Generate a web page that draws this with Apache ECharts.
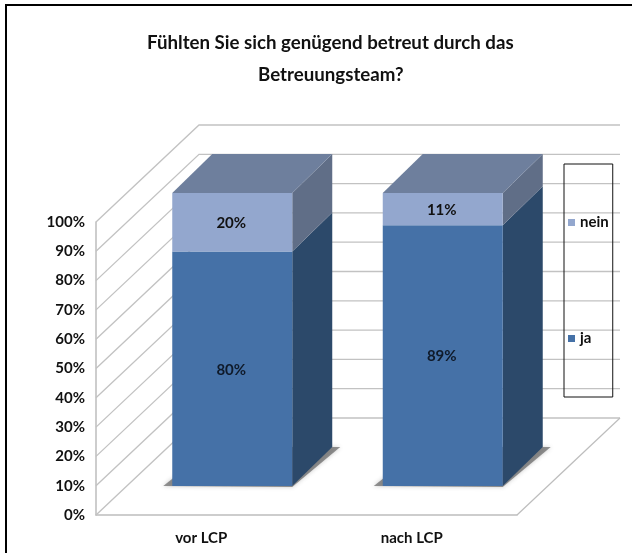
<!DOCTYPE html>
<html>
<head>
<meta charset="utf-8">
<style>html,body{margin:0;padding:0;background:#fff}#c{width:632px;height:553px}</style>
<script src="https://cdn.jsdelivr.net/npm/echarts@6/dist/echarts.min.js"></script>
</head>
<body>
<div id="c"></div>
<script>
var categories = ['vor LCP', 'nach LCP'];
var ja = [80, 89];
var nein = [20, 11];
var ticks = [0, 10, 20, 30, 40, 50, 60, 70, 80, 90, 100];

var WALL = [103, 97];
var BAR_OFFSET = [31, 29];
var BAR_DEPTH = [40, 39];
var BAR_RATIO = 0.57;
var FONT = 'Lato, "Liberation Sans", sans-serif';
var GRID_COLOR = '#c2c2c2';

function face(points, color, extra) {
  var s = { fill: color };
  if (extra) for (var k in extra) s[k] = extra[k];
  return { type: 'polygon', shape: { points: points }, style: s, silent: true };
}

function wallItem(params, api) {
  var cs = params.coordSys;
  var y = api.coord([0, api.value(1)])[1];
  var x0 = cs.x, x1 = cs.x + cs.width;
  return {
    type: 'polyline',
    shape: { points: [[x0, y], [x0 + WALL[0], y - WALL[1]], [x1 + WALL[0], y - WALL[1]]] },
    style: { stroke: GRID_COLOR, lineWidth: 1.3, fill: null },
    silent: true
  };
}

function floorEdge(params) {
  var cs = params.coordSys;
  var x1 = cs.x + cs.width, y = cs.y + cs.height;
  return {
    type: 'polyline',
    shape: { points: [[x1, y], [x1 + WALL[0], y - WALL[1]]] },
    style: { stroke: '#bdbdbd', lineWidth: 1.2, fill: null },
    silent: true
  };
}

function barRenderer(colors, hasTop, hasShadow) {
  return function (params, api) {
    var i = api.value(0), start = api.value(2), v = api.value(1);
    var c = api.coord([i, 0]);
    var w = api.size([1, 0])[0] * BAR_RATIO;
    var cx = c[0] + BAR_OFFSET[0];
    var xl = cx - w / 2, xr = cx + w / 2;
    var yb = api.coord([i, start])[1] - BAR_OFFSET[1];
    var yt = api.coord([i, start + v])[1] - BAR_OFFSET[1];
    var dx = BAR_DEPTH[0], dy = BAR_DEPTH[1];
    var kids = [];
    if (hasShadow) {
      kids.push(face([[xl - 9, yb], [xr, yb + 1], [xr + dx + 8, yb - dy], [xl + dx, yb - dy]],
        'rgba(80,80,80,0.6)', { shadowBlur: 4, shadowColor: 'rgba(80,80,80,0.5)' }));
    }
    kids.push(face([[xr, yt], [xr + dx, yt - dy], [xr + dx, yb - dy], [xr, yb]], colors.side));
    if (hasTop) {
      kids.push(face([[xl, yt], [xr, yt], [xr + dx, yt - dy], [xl + dx, yt - dy]], colors.top));
    }
    kids.push({ type: 'rect', shape: { x: xl, y: yt, width: w, height: yb - yt }, style: { fill: colors.front }, silent: true });
    kids.push({
      type: 'text', silent: true,
      style: {
        x: cx - 1, y: (yt + yb) / 2 + 1, text: v + '%', align: 'center', verticalAlign: 'middle',
        font: 'bold 15px ' + FONT, fill: colors.label
      }
    });
    return { type: 'group', children: kids };
  };
}

var jaColors = { front: '#4571a7', side: '#2c496a', top: '#6e7f9d', label: '#0f1a2a' };
var neinColors = { front: '#93a7ce', side: '#606e87', top: '#6e7f9d', label: '#111111' };

var chart = echarts.init(document.getElementById('c'), null, { renderer: 'canvas' });
chart.setOption({
  animation: false,
  backgroundColor: '#ffffff',
  title: [
    { text: 'Fühlten Sie sich genügend betreut durch das', left: 142, top: 28,
      textStyle: { fontFamily: 'Lato', fontWeight: 'bold', fontSize: 18.7, color: '#111111' } },
    { text: 'Betreuungsteam?', left: 253, top: 60,
      textStyle: { fontFamily: 'Lato', fontWeight: 'bold', fontSize: 18.7, color: '#111111' } }
  ],
  legend: {
    data: ['nein', 'ja'],
    orient: 'vertical',
    left: 564, top: 164,
    padding: [51, 4, 51, 4],
    itemGap: 101,
    itemWidth: 7, itemHeight: 7,
    icon: 'rect',
    borderColor: '#111111', borderWidth: 1,
    selectedMode: false,
    textStyle: { fontFamily: FONT, fontWeight: 'bold', fontSize: 15, color: '#111111' }
  },
  grid: { left: 96, top: 222, width: 421, height: 293, containLabel: false },
  xAxis: {
    type: 'category', data: categories,
    axisLine: { show: true, lineStyle: { color: '#bdbdbd', width: 1.5 } },
    axisTick: { show: false }, splitLine: { show: false },
    axisLabel: { margin: 16, fontFamily: FONT, fontWeight: 'bold', fontSize: 15, color: '#111111' }
  },
  yAxis: {
    type: 'value', min: 0, max: 100, interval: 10,
    axisLine: { show: true, lineStyle: { color: '#bdbdbd', width: 1.5 } },
    axisTick: { show: false }, splitLine: { show: false },
    axisLabel: { margin: 11, formatter: '{value}%', fontFamily: FONT, fontWeight: 'bold', fontSize: 15, color: '#111111' }
  },
  graphic: [{
    type: 'polyline', silent: true, z: 100,
    shape: { points: [[6, 553], [6, 5], [632, 5]] },
    style: { stroke: '#000000', lineWidth: 2, fill: null }
  }],
  series: [
    { name: 'Wand', type: 'custom', z: 1, silent: true, renderItem: wallItem,
      data: ticks.map(function (t) { return [0, t]; }), encode: { x: 0, y: 1 } },
    { name: 'Boden', type: 'custom', z: 1, silent: true, renderItem: floorEdge,
      data: [[0, 0]], encode: { x: 0, y: 1 } },
    { name: 'ja', type: 'custom', z: 3, silent: true, itemStyle: { color: jaColors.front },
      renderItem: barRenderer(jaColors, false, true),
      data: ja.map(function (v, i) { return [i, v, 0]; }), encode: { x: 0, y: 1 } },
    { name: 'nein', type: 'custom', z: 4, silent: true, itemStyle: { color: neinColors.front },
      renderItem: barRenderer(neinColors, true, false),
      data: nein.map(function (v, i) { return [i, v, ja[i]]; }), encode: { x: 0, y: 1 } }
  ]
});
</script>
</body>
</html>
